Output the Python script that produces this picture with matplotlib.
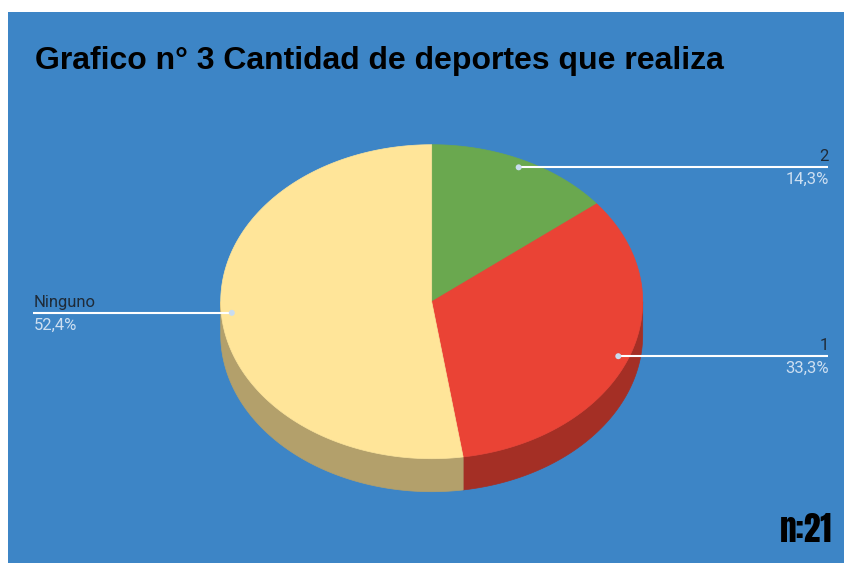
import numpy as np
import matplotlib.pyplot as plt
from matplotlib.patches import Polygon, Rectangle, Circle

# datos del gráfico
categorias = ['2', '1', 'Ninguno']
cantidades = [3, 7, 11]
colores = ['#6aa84f', '#ea4335', '#ffe599']
colores_lado = ['#4a7637', '#a42f25', '#b3a06b']
titulo = 'Grafico n° 3 Cantidad de deportes que realiza'
nota = 'n:21'

fondo = '#3d85c6'

fig = plt.figure(figsize=(8.44, 5.63), dpi=100)
fig.patch.set_facecolor('white')
ax = fig.add_axes([0, 0, 1, 1])
ax.set_xlim(0, 844)
ax.set_ylim(563, 0)
ax.axis('off')

ax.add_patch(Rectangle((8, 12), 836, 551, facecolor=fondo, edgecolor='none'))

# geometria de la torta en perspectiva
cx, cy = 431.7, 301.7
ra, rb = 211, 157
prof = 33


def borde(t, dy=0.0, r=1.0):
    t = np.radians(t)
    return np.column_stack([cx + r * ra * np.sin(t), cy - r * rb * np.cos(t) + dy])


total = sum(cantidades)
fracs = np.array(cantidades) / total
fin = np.cumsum(fracs) * 360
ini = fin - fracs * 360

# lados visibles (mitad delantera)
for a0, a1, c in zip(ini, fin, colores_lado):
    s0, s1 = max(a0, 90), min(a1, 270)
    if s1 <= s0:
        continue
    t = np.linspace(s0, s1, 120)
    pts = np.vstack([borde(t), borde(t[::-1], prof)])
    ax.add_patch(Polygon(pts, closed=True, facecolor=c, edgecolor=c, lw=0.5))

# cara superior
for a0, a1, c in zip(ini, fin, colores):
    t = np.linspace(a0, a1, 200)
    pts = np.vstack([[cx, cy], borde(t)])
    ax.add_patch(Polygon(pts, closed=True, facecolor=c, edgecolor=c, lw=0.5))

# etiquetas con linea guia
for nombre, f, a0, a1 in zip(categorias, fracs, ini, fin):
    mid = (a0 + a1) / 2
    px, py = borde([mid], r=0.95)[0]
    pct = f'{f * 100:.1f}%'.replace('.', ',')
    if px > cx:
        x_fin, ha, x_txt = 828, 'right', 829
    else:
        x_fin, ha, x_txt = 33, 'left', 34
    ax.plot([px, x_fin], [py, py], color='white', lw=1.5, solid_capstyle='butt')
    ax.add_patch(Circle((px, py), 3, facecolor='#c9dcf0', edgecolor='none', zorder=3))
    ax.text(x_txt, py - 6, nombre, ha=ha, va='baseline', fontsize=12,
            family='Roboto', color='#1f2b38')
    ax.text(x_txt, py + 5, pct, ha=ha, va='top', fontsize=12,
            family='Roboto', color='#cddff1')

ax.text(35, 69, titulo, ha='left', va='baseline', fontsize=23,
        fontweight='bold', family='Liberation Sans', color='black')
ax.text(832, 542, nota, ha='right', va='baseline', fontsize=24,
        fontweight='bold', family=['Anton', 'Barlow Condensed', 'DejaVu Sans'],
        color='black')

fig.savefig('out.png', dpi=100)
